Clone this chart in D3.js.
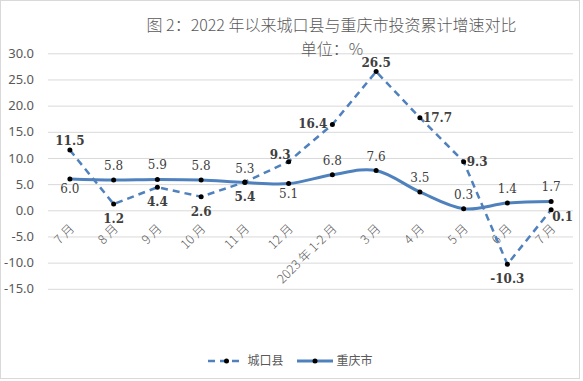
<!DOCTYPE html>
<html>
<head>
<meta charset="utf-8">
<script src="https://cdn.jsdelivr.net/npm/d3@7"></script>
<style>
  html, body { margin: 0; padding: 0; background: #fff; }
  svg { display: block; }
</style>
</head>
<body>
<svg id="chart" width="583" height="381"></svg>
<script>
// ---- data ----
const categories = ["7 月", "8 月", "9 月", "10 月", "11 月", "12 月", "2023 年 1-2 月", "3 月", "4 月", "5 月", "6 月", "7 月"];
const chengkou = [11.5, 1.2, 4.4, 2.6, 5.4, 9.3, 16.4, 26.5, 17.7, 9.3, -10.3, 0.1];
const chongqing = [6.0, 5.8, 5.9, 5.8, 5.3, 5.1, 6.8, 7.6, 3.5, 0.3, 1.4, 1.7];
const yTicks = [-15, -10, -5, 0, 5, 10, 15, 20, 25, 30];
const seriesNames = ["城口县", "重庆市"];
const titleText = "图 2：2022 年以来城口县与重庆市投资累计增速对比";
const subtitleText = "单位：%";
// label placement keywords (style, not data)
const chengkouPos = ["above", "below", "below", "below", "below", "aboveLeft", "left", "above", "right", "right", "below", "belowRight"];
const chongqingPos = ["below", "above", "above", "above", "above", "below", "above", "above", "above", "above", "above", "above"];

// ---- layout ----
const plot = { left: 48, right: 573, top: 53.3, bottom: 288.8 };
const blue = "#4f81bd";
const textGray = "#595959";
const labelGray = "#404040";
const fmt = d3.formatLocale({ decimal: ".", thousands: ",", grouping: [3], currency: ["", ""], minus: "-" }).format(".1f");

const svg = d3.select("#chart");

// chart area border
svg.append("rect")
  .attr("x", 0.5).attr("y", 0.5)
  .attr("width", 579).attr("height", 378)
  .attr("fill", "#fff").attr("stroke", "#d9d9d9").attr("stroke-width", 1);

const x = d3.scaleBand().domain(d3.range(categories.length)).range([plot.left, plot.right]);
const cx = i => x(i) + x.bandwidth() / 2;
const y = d3.scaleLinear().domain([-15, 30]).range([plot.bottom, plot.top]);

// y grid + labels
const yAxis = d3.axisLeft(y)
  .tickValues(yTicks)
  .tickSize(-(plot.right - plot.left))
  .tickPadding(14)
  .tickFormat(fmt);
const gy = svg.append("g").attr("transform", `translate(${plot.left},0)`).call(yAxis);
gy.select(".domain").remove();
gy.selectAll(".tick line").attr("stroke", "#d9d9d9").attr("stroke-width", 1);
gy.selectAll(".tick text")
  .attr("fill", textGray)
  .style("font-family", "'Noto Sans', 'DejaVu Sans', sans-serif")
  .style("font-size", "13px");

// x labels
const xAxis = d3.axisBottom(x).tickSize(0).tickFormat(i => categories[i]);
const gx = svg.append("g").attr("transform", `translate(0,${y(0)})`).call(xAxis);
gx.select(".domain").remove();
gx.selectAll(".tick text")
  .attr("x", 0).attr("y", 0).attr("dy", "0.35em")
  .attr("text-anchor", "end")
  .attr("transform", "translate(2,16) rotate(-45)")
  .attr("fill", textGray)
  .style("font-family", "'Noto Sans CJK SC', 'Noto Sans', sans-serif")
  .style("font-weight", "300")
  .style("font-size", "12.5px");

// title
svg.append("text")
  .attr("x", 331.5).attr("y", 30.5)
  .attr("text-anchor", "middle")
  .attr("fill", textGray)
  .style("font-family", "'Noto Sans CJK SC', sans-serif")
  .style("font-weight", "300")
  .style("font-size", "16px")
  .text(titleText);
svg.append("text")
  .attr("x", 332).attr("y", 55)
  .attr("text-anchor", "middle")
  .attr("fill", textGray)
  .style("font-family", "'Noto Sans CJK SC', sans-serif")
  .style("font-weight", "300")
  .style("font-size", "16px")
  .text(subtitleText);

// lines
const lineLinear = d3.line().x((d, i) => cx(i)).y(d => y(d));
const lineSmooth = d3.line().x((d, i) => cx(i)).y(d => y(d)).curve(d3.curveCatmullRom.alpha(0));

svg.append("path").datum(chongqing)
  .attr("d", lineSmooth)
  .attr("fill", "none").attr("stroke", blue).attr("stroke-width", 3)
  .attr("stroke-linejoin", "round");

svg.append("path").datum(chengkou)
  .attr("d", lineLinear)
  .attr("fill", "none").attr("stroke", blue).attr("stroke-width", 2.5)
  .attr("stroke-dasharray", "7,5");

// markers
function markers(data) {
  svg.append("g").selectAll("circle").data(data).join("circle")
    .attr("cx", (d, i) => cx(i)).attr("cy", d => y(d))
    .attr("r", 2.5).attr("fill", "#000");
}
markers(chongqing);
markers(chengkou);

// data labels
function placeLabel(pos, isBold) {
  switch (pos) {
    case "above": return { dx: 0, dy: isBold ? -5 : -10, anchor: "middle" };
    case "below": return { dx: 0, dy: isBold ? 19 : 14, anchor: "middle" };
    case "left": return { dx: -5, dy: 4, anchor: "end" };
    case "right": return { dx: 3, dy: 4, anchor: "start" };
    case "aboveLeft": return { dx: 2, dy: -3, anchor: "end" };
    case "belowRight": return { dx: 1, dy: 11, anchor: "start" };
  }
}
function labels(data, pos, bold) {
  svg.append("g").selectAll("text").data(data).join("text")
    .each(function (d, i) {
      const p = placeLabel(pos[i], bold);
      d3.select(this)
        .attr("x", cx(i) + p.dx)
        .attr("y", y(d) + p.dy)
        .attr("text-anchor", p.anchor);
    })
    .attr("fill", labelGray)
    .style("font-family", "'DejaVu Serif', serif")
    .style("font-size", "12px")
    .style("font-weight", bold ? "bold" : "normal")
    .text(d => fmt(d));
}
labels(chengkou, chengkouPos, true);
labels(chongqing, chongqingPos, false);

// legend
const legY = 361;
const leg = svg.append("g");
// 城口县
leg.append("line").attr("x1", 208).attr("x2", 243).attr("y1", legY).attr("y2", legY)
  .attr("stroke", blue).attr("stroke-width", 2.5).attr("stroke-dasharray", "7,5");
leg.append("circle").attr("cx", 226.5).attr("cy", legY).attr("r", 2.5).attr("fill", "#000");
leg.append("text").attr("x", 247.5).attr("y", legY).attr("dy", "0.35em")
  .attr("fill", textGray)
  .style("font-family", "'Noto Sans CJK SC', sans-serif").style("font-size", "12px")
  .text(seriesNames[0]);
// 重庆市
leg.append("line").attr("x1", 297).attr("x2", 333).attr("y1", legY).attr("y2", legY)
  .attr("stroke", blue).attr("stroke-width", 3);
leg.append("circle").attr("cx", 315).attr("cy", legY).attr("r", 2.5).attr("fill", "#000");
leg.append("text").attr("x", 336.5).attr("y", legY).attr("dy", "0.35em")
  .attr("fill", textGray)
  .style("font-family", "'Noto Sans CJK SC', sans-serif").style("font-size", "12px")
  .text(seriesNames[1]);
</script>
</body>
</html>
